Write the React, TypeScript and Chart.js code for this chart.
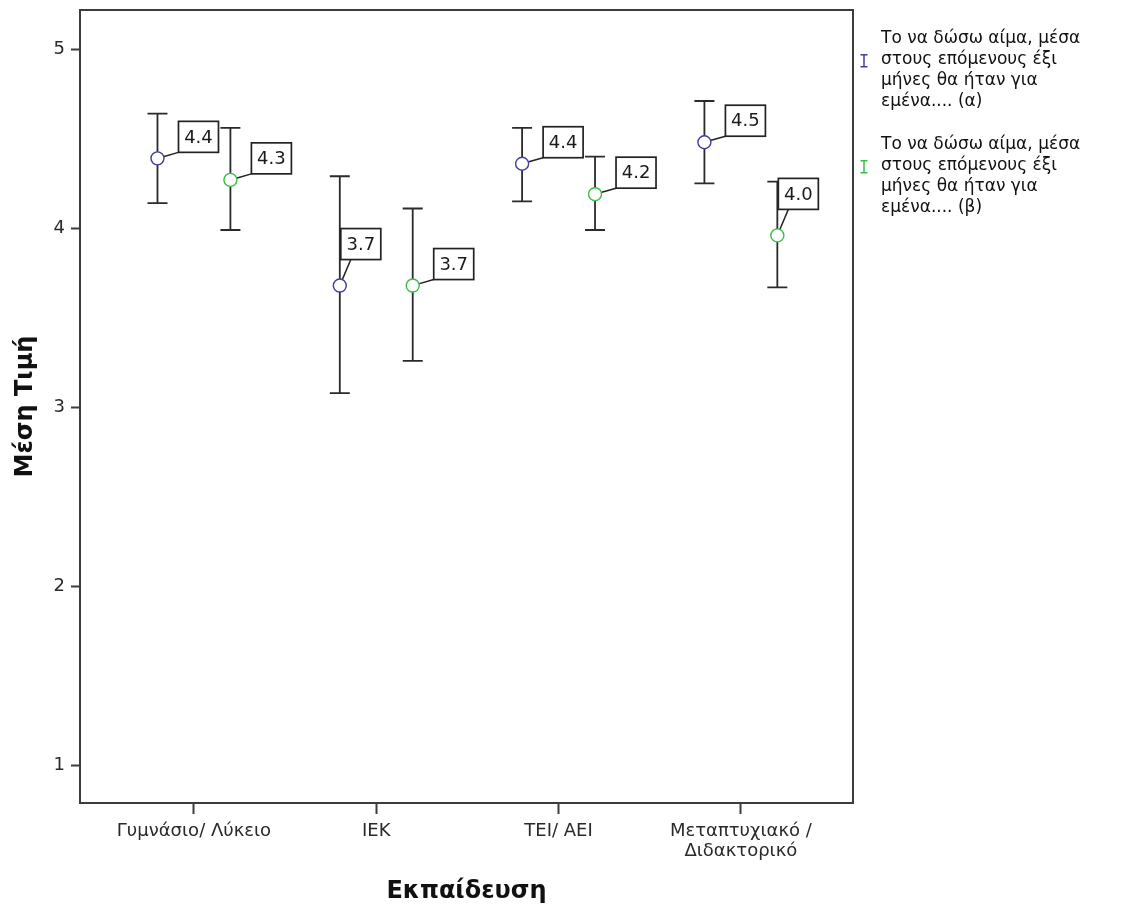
import React, { useEffect, useRef } from "react";
import { Chart, registerables } from "chart.js";

Chart.register(...registerables);

// Education levels on the x axis ("\n" splits a label over two lines)
const categories = [
  "Γυμνάσιο/ Λύκειο",
  "ΙΕΚ",
  "ΤΕΙ/ ΑΕΙ",
  "Μεταπτυχιακό /\nΔιδακτορικό",
];
const yTickValues = [1, 2, 3, 4, 5];

// Legend text for the two questions, already broken into lines
const seriesALines = [
  "Το να δώσω αίμα, μέσα",
  "στους επόμενους έξι",
  "μήνες θα ήταν για",
  "εμένα.... (α)",
];
const seriesBLines = [
  "Το να δώσω αίμα, μέσα",
  "στους επόμενους έξι",
  "μήνες θα ήταν για",
  "εμένα.... (β)",
];

// Mean and 95% CI bounds per education level
const meanA = [4.39, 3.68, 4.36, 4.48];
const lowA = [4.14, 3.08, 4.15, 4.25];
const highA = [4.64, 4.29, 4.56, 4.71];

const meanB = [4.27, 3.68, 4.19, 3.96];
const lowB = [3.99, 3.26, 3.99, 3.67];
const highB = [4.56, 4.11, 4.4, 4.26];

const FONT = "'DejaVu Sans', sans-serif";
const COLOR_A = "#3e3e9c";
const COLOR_B = "#38bf48";
const INK = "#2a2a2a";
const FRAME = "#3c3c3c";

const errorBarPlugin = {
  id: "errorBars",
  beforeDatasetsDraw(chart: any) {
    const { ctx } = chart;
    const yScale = chart.scales.y;
    chart.data.datasets.forEach((ds: any, di: number) => {
      const meta = chart.getDatasetMeta(di);
      meta.data.forEach((pt: any, i: number) => {
        const top = yScale.getPixelForValue(ds.high[i]);
        const bot = yScale.getPixelForValue(ds.low[i]);
        const cap = 10;
        ctx.save();
        ctx.strokeStyle = INK;
        ctx.lineWidth = 1.8;
        ctx.beginPath();
        ctx.moveTo(pt.x, top);
        ctx.lineTo(pt.x, bot);
        ctx.moveTo(pt.x - cap, top);
        ctx.lineTo(pt.x + cap, top);
        ctx.moveTo(pt.x - cap, bot);
        ctx.lineTo(pt.x + cap, bot);
        ctx.stroke();
        ctx.restore();
      });
    });
  },
};

const valueLabelPlugin = {
  id: "valueLabels",
  afterDatasetsDraw(chart: any) {
    const { ctx } = chart;
    chart.data.datasets.forEach((ds: any, di: number) => {
      const meta = chart.getDatasetMeta(di);
      meta.data.forEach((pt: any, i: number) => {
        const value = ds.data[i].y as number;
        const text = value.toFixed(1);
        const raised = ds.labelRaised && ds.labelRaised[i];
        const w = 40;
        const h = 31;
        let left: number, bottom: number, anchorX: number;
        if (raised) {
          left = pt.x + 1;
          bottom = pt.y - 26;
          anchorX = pt.x + 11;
        } else {
          left = pt.x + 21;
          bottom = pt.y - 6;
          anchorX = left;
        }
        const dx = anchorX - pt.x;
        const dy = bottom - pt.y;
        const len = Math.hypot(dx, dy);
        const r = 7;
        ctx.save();
        ctx.strokeStyle = "#222";
        ctx.lineWidth = 1.5;
        ctx.beginPath();
        ctx.moveTo(pt.x + (dx / len) * r, pt.y + (dy / len) * r);
        ctx.lineTo(anchorX, bottom);
        ctx.stroke();
        ctx.fillStyle = "#ffffff";
        ctx.fillRect(left, bottom - h, w, h);
        ctx.lineWidth = 1.7;
        ctx.strokeRect(left, bottom - h, w, h);
        ctx.fillStyle = "#1a1a1a";
        ctx.font = `18px ${FONT}`;
        ctx.textAlign = "center";
        ctx.textBaseline = "middle";
        ctx.fillText(text, left + w / 2, bottom - h / 2 + 1);
        ctx.restore();
      });
    });
  },
};

const framePlugin = {
  id: "frame",
  afterDatasetsDraw(chart: any) {
    const { ctx, chartArea } = chart;
    ctx.save();
    ctx.strokeStyle = FRAME;
    ctx.lineWidth = 2;
    ctx.strokeRect(
      chartArea.left,
      chartArea.top,
      chartArea.right - chartArea.left,
      chartArea.bottom - chartArea.top
    );
    ctx.restore();
  },
};

const sideLegendPlugin = {
  id: "sideLegend",
  afterDraw(chart: any) {
    const { ctx, chartArea } = chart;
    const items = [
      { color: COLOR_A, lines: seriesALines },
      { color: COLOR_B, lines: seriesBLines },
    ];
    const textX = chartArea.right + 28;
    const iconX = chartArea.right + 11;
    const lineGap = 20.7;
    items.forEach((item, k) => {
      const y0 = 39 + k * 106;
      ctx.save();
      ctx.fillStyle = "#111";
      ctx.font = `17px ${FONT}`;
      ctx.textAlign = "left";
      ctx.textBaseline = "middle";
      item.lines.forEach((line, j) => {
        ctx.fillText(line, textX, y0 + j * lineGap);
      });
      const iy = y0 + lineGap + 1;
      ctx.strokeStyle = item.color;
      ctx.lineWidth = 1.5;
      ctx.beginPath();
      ctx.moveTo(iconX, iy - 6);
      ctx.lineTo(iconX, iy + 6);
      ctx.moveTo(iconX - 3.5, iy - 6);
      ctx.lineTo(iconX + 3.5, iy - 6);
      ctx.moveTo(iconX - 3.5, iy + 6);
      ctx.lineTo(iconX + 3.5, iy + 6);
      ctx.stroke();
      ctx.restore();
    });
  },
};

export default function App() {
  const canvasRef = useRef<HTMLCanvasElement | null>(null);

  useEffect(() => {
    document.body.style.margin = "0";
    const canvas = canvasRef.current;
    if (!canvas) return;

    const offset = 0.2;
    const toPoints = (means: number[], shift: number) =>
      means.map((m, i) => ({ x: i + 1 + shift, y: m }));

    const chart = new Chart(canvas, {
      type: "scatter",
      data: {
        datasets: [
          {
            label: seriesALines.join(" "),
            data: toPoints(meanA, -offset),
            low: lowA,
            high: highA,
            labelRaised: [false, true, false, false],
            pointRadius: 6.5,
            pointBorderWidth: 1.4,
            pointBorderColor: COLOR_A,
            pointBackgroundColor: "#ffffff",
          } as any,
          {
            label: seriesBLines.join(" "),
            data: toPoints(meanB, offset),
            low: lowB,
            high: highB,
            labelRaised: [false, false, false, true],
            pointRadius: 6.5,
            pointBorderWidth: 1.4,
            pointBorderColor: COLOR_B,
            pointBackgroundColor: "#ffffff",
          } as any,
        ],
      },
      options: {
        responsive: false,
        animation: false,
        events: [],
        layout: { padding: { left: 0, top: 10, right: 269, bottom: 0 } },
        plugins: {
          legend: { display: false },
          tooltip: { enabled: false },
        },
        scales: {
          x: {
            type: "linear",
            min: 0.375,
            max: 4.615,
            afterBuildTicks: (scale: any) => {
              scale.ticks = categories.map((_, i) => ({ value: i + 1 }));
            },
            afterFit: (scale: any) => {
              scale.height = 105;
              scale.paddingLeft = 0;
              scale.paddingRight = 0;
            },
            border: { display: false },
            grid: {
              drawOnChartArea: false,
              drawTicks: true,
              tickLength: 11,
              tickWidth: 2,
              tickColor: FRAME,
            },
            ticks: {
              autoSkip: false,
              maxRotation: 0,
              padding: 7,
              color: INK,
              font: { family: FONT, size: 18, lineHeight: 1.11 },
              callback: (value: any) => {
                const label = categories[Math.round(Number(value)) - 1];
                return label ? label.split("\n") : "";
              },
            },
            title: {
              display: true,
              text: "Εκπαίδευση",
              color: "#111",
              font: { family: FONT, size: 24, weight: "bold", lineHeight: 1.2 },
              padding: { top: 0, bottom: 2 },
            },
          },
          y: {
            type: "linear",
            min: 0.792,
            max: 5.218,
            afterBuildTicks: (scale: any) => {
              scale.ticks = yTickValues.map((v) => ({ value: v }));
            },
            afterFit: (scale: any) => {
              scale.width = 80;
              scale.paddingTop = 0;
              scale.paddingBottom = 0;
            },
            border: { display: false },
            grid: {
              drawOnChartArea: false,
              drawTicks: true,
              tickLength: 9,
              tickWidth: 2,
              tickColor: FRAME,
            },
            ticks: {
              padding: 6,
              color: INK,
              font: { family: FONT, size: 18 },
              callback: (value: any) => String(value),
            },
            title: {
              display: true,
              text: "Μέση Τιμή",
              color: "#111",
              font: { family: FONT, size: 24, weight: "bold", lineHeight: 1.2 },
              padding: { top: 11, bottom: 0 },
            },
          },
        },
      },
      plugins: [errorBarPlugin, framePlugin, valueLabelPlugin, sideLegendPlugin],
    });

    return () => chart.destroy();
  }, []);

  return (
    <div style={{ width: 1122, height: 908, background: "#ffffff" }}>
      <canvas ref={canvasRef} width={1122} height={908} style={{ display: "block" }} />
    </div>
  );
}
